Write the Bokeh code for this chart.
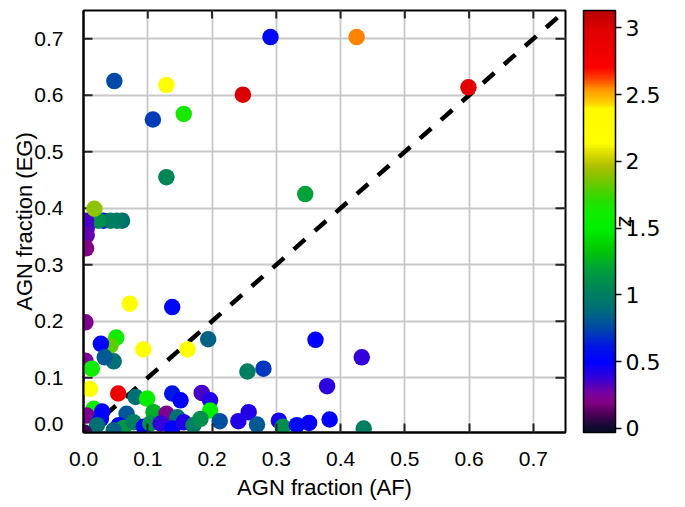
import numpy as np
from bokeh.plotting import figure
from bokeh.models import (LinearColorMapper, ColorBar, FixedTicker, Title,
                          NumeralTickFormatter, PrintfTickFormatter,
                          ColumnDataSource)
from bokeh.embed import file_html
from bokeh.resources import INLINE

# AGN fraction from the AF method, AGN fraction from the EG method, redshift z
agn_af = [
    0.291, 0.425, 0.048, 0.129, 0.248, 0.599, 0.108, 0.156, 0.129, 0.345,
    0.031, 0.060, 0.052, 0.042, 0.023, 0.004, 0.005, 0.005, 0.004, 0.017,
    0.072, 0.138, 0.003, 0.194, 0.093, 0.162, 0.051, 0.042, 0.027, 0.047,
    0.033, 0.003, 0.013,
    0.361, 0.433, 0.379, 0.255, 0.280,
    0.010, 0.054, 0.081, 0.099, 0.138, 0.151, 0.184, 0.197, 0.197, 0.016,
    0.029, 0.005, 0.027, 0.067, 0.109, 0.129, 0.146, 0.055, 0.062, 0.047,
    0.078, 0.094, 0.104, 0.120, 0.138, 0.156, 0.021, 0.212, 0.171, 0.182,
    0.257, 0.241, 0.270, 0.304, 0.310, 0.332, 0.351, 0.383, 0.436, 0.001,
]
agn_eg = [
    0.703, 0.703, 0.625, 0.618, 0.601, 0.614, 0.557, 0.567, 0.455, 0.425,
    0.378, 0.378, 0.378, 0.378, 0.378, 0.378, 0.364, 0.352, 0.329, 0.399,
    0.231, 0.225, 0.198, 0.168, 0.150, 0.150, 0.171, 0.157, 0.160, 0.129,
    0.136, 0.130, 0.116,
    0.167, 0.136, 0.085, 0.111, 0.116,
    0.080, 0.072, 0.066, 0.063, 0.072, 0.060, 0.073, 0.060, 0.042, 0.045,
    0.040, 0.033, 0.027, 0.036, 0.039, 0.036, 0.030, 0.016, 0.011, 0.007,
    0.021, 0.013, 0.019, 0.019, 0.010, 0.021, 0.016, 0.023, 0.016, 0.027,
    0.039, 0.023, 0.017, 0.024, 0.013, 0.016, 0.020, 0.026, 0.010, 0.003,
]
redshift = [
    0.55, 2.55, 0.75, 2.20, 3.00, 2.95, 0.72, 1.65, 1.05, 1.20,
    0.60, 0.92, 0.98, 1.00, 1.10, 0.35, 0.35, 0.30, 0.20, 1.90,
    2.20, 0.55, 0.22, 0.85, 2.20, 2.20, 1.60, 1.80, 0.50, 0.90,
    0.82, 0.25, 1.60,
    0.50, 0.38, 0.40, 1.00, 0.70,
    2.20, 2.80, 0.90, 1.55, 0.62, 0.50, 0.35, 0.42, 1.50, 1.60,
    0.50, 0.22, 0.50, 0.80, 1.25, 0.22, 0.90, 0.50, 1.15, 0.85,
    1.00, 0.50, 1.10, 0.38, 0.50, 0.42, 0.90, 0.78, 1.00, 1.10,
    0.42, 0.42, 0.82, 0.45, 1.10, 0.55, 0.47, 0.50, 1.00, 0.10,
]

# one-to-one reference line
one_to_one = [0.0, 0.75]

x_ticks = [0.0, 0.1, 0.2, 0.3, 0.4, 0.5, 0.6, 0.7]
y_ticks = [0.1, 0.2, 0.3, 0.4, 0.5, 0.6, 0.7]
z_ticks = [0, 0.5, 1, 1.5, 2, 2.5, 3]
x_max, y_min, y_max = 0.75, 0.003, 0.75
# the "0.0" label of the left axis sits a little above the lower corner
y_zero_label_at = 0.0173

# rainbow colour table: (z, rgb) anchors interpolated into a 256-step palette
z_low, z_high = -0.03, 3.13
anchors = [
    (-0.03, (10, 10, 40)), (0.01, (20, 10, 50)), (0.11, (80, 0, 90)),
    (0.19, (130, 0, 130)), (0.26, (120, 0, 160)), (0.38, (50, 0, 220)),
    (0.49, (0, 0, 255)), (0.61, (0, 20, 230)), (0.74, (0, 70, 170)),
    (0.89, (0, 110, 120)), (1.03, (0, 130, 90)), (1.19, (0, 160, 60)),
    (1.34, (0, 200, 0)), (1.50, (0, 240, 0)), (1.64, (20, 235, 0)),
    (1.71, (40, 220, 0)), (1.84, (110, 200, 0)), (1.96, (170, 190, 0)),
    (2.06, (220, 220, 0)), (2.14, (255, 255, 0)), (2.40, (255, 250, 0)),
    (2.44, (255, 210, 0)), (2.54, (255, 150, 0)), (2.63, (255, 60, 0)),
    (2.71, (250, 0, 0)), (2.98, (225, 0, 0)), (3.13, (185, 0, 0)),
]
az = np.array([a[0] for a in anchors])
argb = np.array([a[1] for a in anchors], dtype=float)
zz = np.linspace(z_low, z_high, 256)
palette = []
for zv in zz:
    rgb = [int(round(np.interp(zv, az, argb[:, k]))) for k in range(3)]
    palette.append("#%02x%02x%02x" % tuple(rgb))

mapper = LinearColorMapper(palette=palette, low=z_low, high=z_high)

source = ColumnDataSource(dict(af=agn_af, eg=agn_eg, z=redshift))

p = figure(width=685, height=507,
           x_range=(0.0, x_max), y_range=(y_min, y_max),
           output_backend="svg", toolbar_location=None,
           min_border_left=83, min_border_top=10, min_border_bottom=75,
           min_border_right=120,
           background_fill_color="white", border_fill_color="white")

p.outline_line_color = "black"
p.outline_line_width = 2

font = "Liberation Sans"
tick_size = "21px"

# grid
p.xgrid.ticker = FixedTicker(ticks=x_ticks[1:])
p.ygrid.ticker = FixedTicker(ticks=y_ticks)
for g in (p.xgrid, p.ygrid):
    g.grid_line_color = "#c8c8c8"
    g.grid_line_width = 1.8

# bottom axis
xa = p.xaxis[0]
xa.ticker = FixedTicker(ticks=x_ticks)
xa.formatter = NumeralTickFormatter(format="0.0")
xa.axis_label = "AGN fraction (AF)"
xa.major_tick_line_color = "#222222"

# left axis: labels only, tick marks are drawn as rays below
ya = p.yaxis[0]
ya.ticker = FixedTicker(ticks=[y_zero_label_at] + y_ticks)
ya.formatter = NumeralTickFormatter(format="0.0")
ya.major_label_overrides = {y_zero_label_at: "0.0"}
ya.axis_label = "AGN fraction (EG)"
ya.major_tick_line_color = None

for ax in (xa, ya):
    ax.axis_line_color = "black"
    ax.axis_line_width = 2
    ax.major_tick_in = 9
    ax.major_tick_out = 0
    ax.minor_tick_line_color = None
    ax.major_tick_line_width = 2
    ax.major_label_text_font = font
    ax.major_label_text_font_size = tick_size
    ax.major_label_text_color = "black"
    ax.axis_label_text_font = font
    ax.axis_label_text_font_size = "22px"
    ax.axis_label_text_font_style = "normal"
    ax.axis_label_text_color = "black"
xa.major_label_standoff = 19
xa.axis_label_standoff = 6
ya.major_label_standoff = 20
ya.axis_label_standoff = -6

# inward tick marks on the left, top and right edges
p.ray(x=[0.0] * len(y_ticks), y=y_ticks, length=9,
      length_units="screen", angle=0.0, line_color="#222222",
      line_width=2)
p.ray(x=x_ticks[1:], y=[y_max] * (len(x_ticks) - 1), length=8,
      length_units="screen", angle=-np.pi / 2, line_color="#222222",
      line_width=2)
p.ray(x=[x_max] * len(y_ticks), y=y_ticks, length=10,
      length_units="screen", angle=np.pi, line_color="#222222",
      line_width=2)

# one-to-one line
p.line(one_to_one, one_to_one, line_color="black", line_width=4.5,
       line_dash="15 13")

# sources coloured by redshift
p.scatter("af", "eg", source=source, size=16.5, marker="circle",
          fill_color={"field": "z", "transform": mapper}, line_color=None)

# colour bar drawn just right of the frame, spanning its full height
color_bar = ColorBar(color_mapper=mapper, width=32, height=422,
                     ticker=FixedTicker(ticks=z_ticks),
                     formatter=PrintfTickFormatter(format="%g"),
                     major_label_text_font="DejaVu Sans",
                     major_label_text_font_size="22px",
                     major_label_text_color="black",
                     major_tick_out=6, major_tick_in=0,
                     major_tick_line_color="black", major_tick_line_width=1.5,
                     minor_tick_line_color=None,
                     bar_line_color="black", bar_line_width=1.5,
                     label_standoff=4, padding=0, margin=0,
                     location=(500, 0),
                     border_line_color=None, background_fill_color=None)
p.add_layout(color_bar)

# colour-bar label, set against the far right edge
z_title = Title(text="z", text_font="DejaVu Sans", text_font_size="22px",
                text_font_style="normal", text_color="black",
                align="center", vertical_align="top",
                standoff=92, offset=12)
p.add_layout(z_title, "right")

open("out.html", "w").write(file_html(p, INLINE))
